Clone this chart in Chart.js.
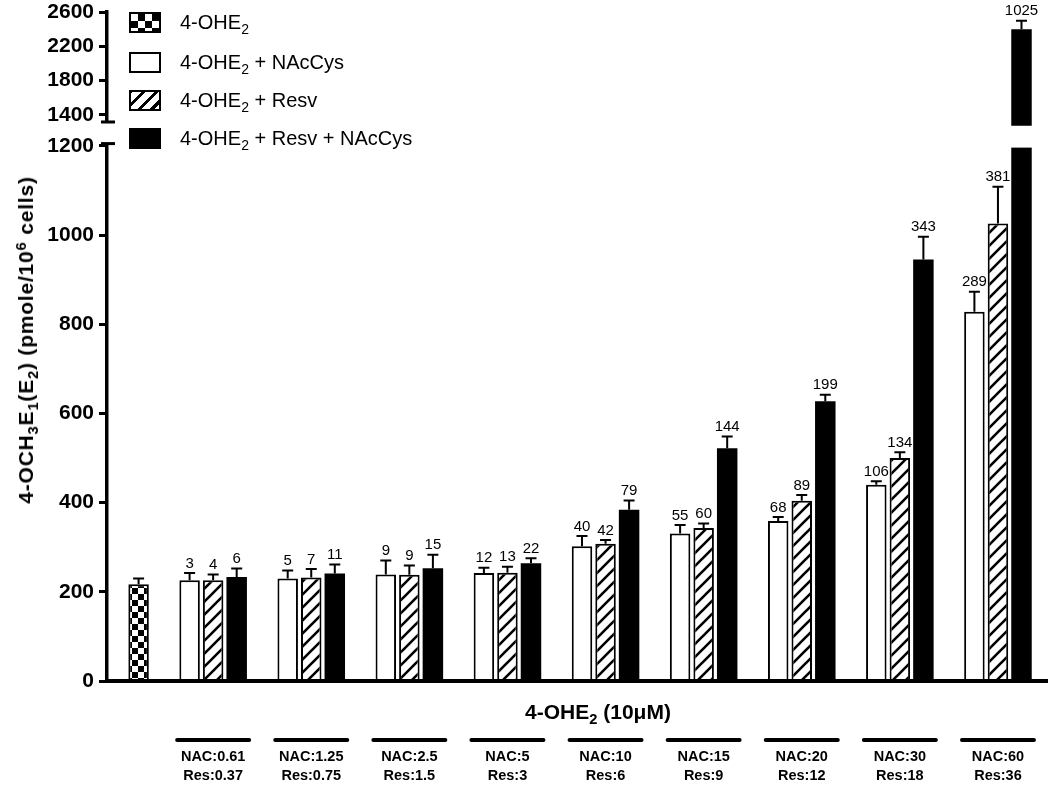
<!DOCTYPE html>
<html>
<head>
<meta charset="utf-8">
<script src="https://cdn.jsdelivr.net/npm/chart.js@4.4.1/dist/chart.umd.min.js"></script>
<style>
  body { margin: 0; background: #fff; }
  #wrap { position: relative; width: 1050px; height: 787px; font-family: "Liberation Sans", Arial, sans-serif; color: #000; }
  #chart { position: absolute; left: 0; top: 0; }
  .legend-item { position: absolute; left: 129px; height: 21px; display: flex; align-items: center; font-size: 20px; white-space: nowrap; }
  .swatch { width: 32px; height: 21px; box-sizing: border-box; border: 2px solid #000; margin-right: 19px; background: #fff; }
  .sw-checker { background: repeating-conic-gradient(#000 0 25%, #fff 0 50%) 0 0 / 14px 14px; }
  .sw-hatch { background: repeating-linear-gradient(-45deg, #fff 0 3.5px, #000 3.5px 6.5px, #fff 6.5px 9px); }
  .sw-solid { background: #000; }
  .sub { font-size: 0.7em; position: relative; top: 0.35em; }
  .sup { font-size: 0.7em; position: relative; top: -0.45em; }
  #ytitle { position: absolute; left: 26px; top: 340px; transform: translate(-50%, -50%) rotate(-90deg); font-weight: bold; font-size: 21px; letter-spacing: 0.8px; white-space: nowrap; }
  #xtitle { position: absolute; left: 598px; top: 712px; transform: translate(-50%, -50%); font-weight: bold; font-size: 21px; white-space: nowrap; }
</style>
</head>
<body>
<div id="wrap">
  <canvas id="chart" width="1050" height="787"></canvas>
  <div class="legend-item" style="top:12px"><div class="swatch sw-checker"></div><span>4-OHE<span class="sub">2</span></span></div>
  <div class="legend-item" style="top:52px"><div class="swatch"></div><span>4-OHE<span class="sub">2</span> + NAcCys</span></div>
  <div class="legend-item" style="top:90px"><div class="swatch sw-hatch"></div><span>4-OHE<span class="sub">2</span> + Resv</span></div>
  <div class="legend-item" style="top:128px"><div class="swatch sw-solid"></div><span>4-OHE<span class="sub">2</span> + Resv + NAcCys</span></div>
  <div id="ytitle">4-OCH<span class="sub">3</span>E<span class="sub">1</span>(E<span class="sub">2</span>) (pmole/10<span class="sup">6</span> cells)</div>
  <div id="xtitle">4-OHE<span class="sub">2</span> (10&mu;M)</div>
</div>
<script>
// group labels under the x axis
const groupNac = ["0.61", "1.25", "2.5", "5", "10", "15", "20", "30", "60"];
const groupRes = ["0.37", "0.75", "1.5", "3", "6", "9", "12", "18", "36"];

// 4-OHE2 alone
const controlValue = [217];
const controlError = [13];

// 4-OHE2 + NAcCys
const nacValues = [226, 230, 239, 242, 302, 331, 359, 440, 828];
const nacErrors = [16, 18, 31, 12, 23, 19, 9, 8, 45];
const nacLabels = ["3", "5", "9", "12", "40", "55", "68", "106", "289"];

// 4-OHE2 + Resv
const resValues = [226, 232, 238, 243, 308, 343, 404, 500, 1026];
const resErrors = [13, 19, 21, 13, 8, 10, 13, 13, 82];
const resLabels = ["4", "7", "9", "13", "42", "60", "89", "134", "381"];

// 4-OHE2 + Resv + NAcCys
const bothValues = [233, 241, 253, 264, 384, 522, 627, 945, 2398];
const bothErrors = [19, 20, 30, 11, 21, 26, 15, 51, 100];
const bothLabels = ["6", "11", "15", "22", "79", "144", "199", "343", "1025"];

const yTicks = [0, 200, 400, 600, 800, 1000, 1200, 1400, 1800, 2200, 2600];

// y scale with a break: below 1250 and above 1300 use different scales
class BrokenLinearScale extends Chart.LinearScale {
    static id = "brokenLinear";
    static defaults = Chart.LinearScale.defaults;

    buildTicks() {
        return Array.from(this.options.tickValues, v => ({ value: v }));
    }

    _units(value) {
        const { low, high, ratio } = this.options.axisBreak;
        const split = (low - this.min) * ratio;
        if (value <= low) return (value - this.min) * ratio;
        if (value < high) return split;
        return split + (value - high);
    }

    getPixelForValue(value) {
        if (value === null || isNaN(value)) return NaN;
        return this.getPixelForDecimal(this._units(value) / this._units(this.max));
    }

    getValueForPixel(pixel) {
        const { low, high, ratio } = this.options.axisBreak;
        const u = this.getDecimalForPixel(pixel) * this._units(this.max);
        const split = (low - this.min) * ratio;
        return u <= split ? this.min + u / ratio : high + (u - split);
    }
}
Chart.register(BrokenLinearScale);

function makeChecker(cell) {
    const c = document.createElement("canvas");
    c.width = c.height = cell * 2;
    const g = c.getContext("2d");
    g.fillStyle = "#fff";
    g.fillRect(0, 0, cell * 2, cell * 2);
    g.fillStyle = "#000";
    g.fillRect(0, 0, cell, cell);
    g.fillRect(cell, cell, cell, cell);
    return g.createPattern(c, "repeat");
}

function makeHatch(size) {
    const c = document.createElement("canvas");
    c.width = c.height = size;
    const g = c.getContext("2d");
    g.fillStyle = "#fff";
    g.fillRect(0, 0, size, size);
    g.strokeStyle = "#000";
    g.lineWidth = 2.6;
    g.beginPath();
    g.moveTo(-1, size + 1); g.lineTo(size + 1, -1);
    g.moveTo(-2, 2); g.lineTo(2, -2);
    g.moveTo(size - 2, size + 2); g.lineTo(size + 2, size - 2);
    g.stroke();
    return g.createPattern(c, "repeat");
}

const toPoints = (values, start) => values.map((v, i) => ({ x: i + start, y: v }));

// error bars and value labels on top of every bar
const errorBarsPlugin = {
    id: "errorBars",
    afterDatasetsDraw(chart) {
        const { ctx } = chart;
        const yScale = chart.scales.y;
        chart.data.datasets.forEach((ds, di) => {
            const meta = chart.getDatasetMeta(di);
            meta.data.forEach((bar, i) => {
                const top = yScale.getPixelForValue(ds.data[i].y + ds.errors[i]);
                ctx.save();
                ctx.strokeStyle = "#000";
                ctx.lineWidth = 2;
                ctx.beginPath();
                ctx.moveTo(bar.x, bar.y);
                ctx.lineTo(bar.x, top);
                ctx.moveTo(bar.x - 5.5, top);
                ctx.lineTo(bar.x + 5.5, top);
                ctx.stroke();
                if (ds.valueLabels) {
                    ctx.fillStyle = "#000";
                    ctx.font = "15px 'Liberation Sans', Arial, sans-serif";
                    ctx.textAlign = "center";
                    ctx.textBaseline = "bottom";
                    ctx.fillText(ds.valueLabels[i], bar.x, top - 2);
                }
                ctx.restore();
            });
        });
    }
};

// axis break and the bars over the group labels
const decorPlugin = {
    id: "decor",
    afterDraw(chart) {
        const { ctx, chartArea } = chart;
        const y = chart.scales.y;
        const x = chart.scales.x;
        const left = chartArea.left;

        ctx.save();
        ctx.fillStyle = "#fff";
        const bandTop = y.getPixelForValue(1245);
        const bandBottom = y.getPixelForValue(1196);
        ctx.fillRect(left + 3, bandTop, chartArea.right - left, bandBottom - bandTop);

        const gapTop = y.getPixelForValue(1318);
        const gapBottom = y.getPixelForValue(1205);
        ctx.fillRect(left - 4, gapTop, 8, gapBottom - gapTop);
        ctx.fillStyle = "#000";
        ctx.fillRect(left - 6, gapTop - 1.5, 14, 3);
        ctx.fillRect(left - 6, gapBottom - 1.5, 14, 3);

        ctx.strokeStyle = "#000";
        ctx.lineWidth = 4;
        ctx.lineCap = "round";
        groupNac.forEach((_, i) => {
            const cx = x.getPixelForValue(i + 1);
            ctx.beginPath();
            ctx.moveTo(cx - 36, 740);
            ctx.lineTo(cx + 36, 740);
            ctx.stroke();
        });
        ctx.restore();
    }
};

const barStyle = { borderColor: "#000", borderWidth: 2, categoryPercentage: 0.72, barPercentage: 0.87 };

new Chart(document.getElementById("chart"), {
    type: "bar",
    data: {
        datasets: [
            { ...barStyle, label: "4-OHE2 + NAcCys", stack: "w", data: toPoints(nacValues, 1), errors: nacErrors, valueLabels: nacLabels, backgroundColor: "#fff" },
            { ...barStyle, label: "4-OHE2 + Resv", stack: "h", data: toPoints(resValues, 1), errors: resErrors, valueLabels: resLabels, backgroundColor: makeHatch(13) },
            { ...barStyle, label: "4-OHE2 + Resv + NAcCys", stack: "b", data: toPoints(bothValues, 1), errors: bothErrors, valueLabels: bothLabels, backgroundColor: "#000", borderWidth: 0 },
            { ...barStyle, label: "4-OHE2", stack: "b", data: toPoints(controlValue, 0), errors: controlError, backgroundColor: makeChecker(6) }
        ]
    },
    options: {
        responsive: false,
        animation: false,
        events: [],
        layout: { padding: { top: 0, right: 3, bottom: 0, left: 0 } },
        plugins: { legend: { display: false }, tooltip: { enabled: false } },
        scales: {
            x: {
                type: "linear",
                offset: false,
                min: -0.082,
                max: 9.5,
                afterBuildTicks: axis => { axis.ticks = groupNac.map((_, i) => ({ value: i + 1 })); },
                afterFit: axis => { axis.height = 106; axis.paddingLeft = 0; axis.paddingRight = 0; },
                border: { color: "#000", width: 4, z: 1 },
                grid: { display: false, drawTicks: false, offset: false },
                ticks: {
                    autoSkip: false,
                    maxRotation: 0,
                    padding: 67,
                    color: "#000",
                    font: { family: "'Liberation Sans', Arial, sans-serif", size: 14.5, weight: "bold", lineHeight: 1.31 },
                    callback: (value, index) => ["NAC:" + groupNac[index], "Res:" + groupRes[index]]
                }
            },
            y: {
                type: "brokenLinear",
                min: 0,
                max: 2600,
                tickValues: yTicks,
                axisBreak: { low: 1250, high: 1300, ratio: 5.2 },
                afterFit: axis => { axis.width = 107; },
                border: { color: "#000", width: 3.5, z: 1 },
                grid: { drawOnChartArea: false, tickLength: 8, tickWidth: 3, tickColor: "#000" },
                ticks: {
                    padding: 5,
                    color: "#000",
                    font: { family: "'Liberation Sans', Arial, sans-serif", size: 21, weight: "bold", lineHeight: 0.67 },
                    callback: value => String(value)
                }
            }
        }
    },
    plugins: [errorBarsPlugin, decorPlugin]
});
</script>
</body>
</html>
